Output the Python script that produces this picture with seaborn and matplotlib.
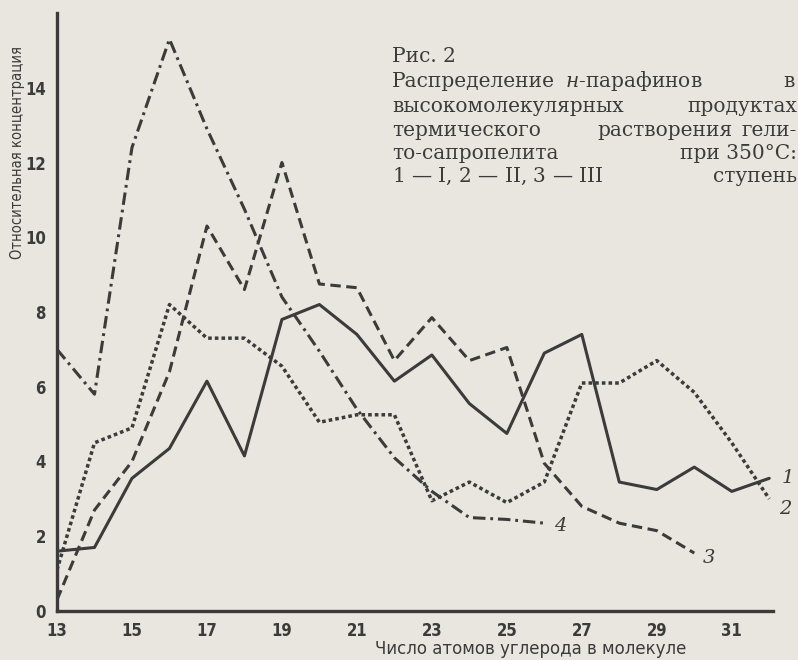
import numpy as np
import matplotlib.pyplot as plt
import seaborn as sns

# число атомов углерода
carbon = list(range(13, 33))

# относительная концентрация н-парафинов
stage1 = [1.6, 1.7, 3.55, 4.35, 6.15, 4.15, 7.8, 8.2, 7.4, 6.15,
          6.85, 5.55, 4.75, 6.9, 7.4, 3.45, 3.25, 3.85, 3.2, 3.55]
stage2 = [1.1, 4.5, 4.9, 8.2, 7.3, 7.3, 6.55, 5.05, 5.25, 5.25,
          2.95, 3.45, 2.9, 3.45, 6.1, 6.1, 6.7, 5.85, 4.5, 3.0]
stage3 = [0.3, 2.7, 4.0, 6.4, 10.3, 8.6, 12.0, 8.75, 8.65, 6.7,
          7.85, 6.7, 7.05, 3.95, 2.8, 2.35, 2.15, 1.55]
stage4 = [7.0, 5.8, 12.4, 15.3, 12.9, 10.75, 8.4, 6.95, 5.4, 4.1,
          3.2, 2.5, 2.45, 2.35]

series_labels = ["1", "2", "3", "4"]
xtick_vals = list(range(13, 32, 2))
ytick_vals = list(range(0, 17, 2))
ytick_labels = [str(v) for v in ytick_vals[:-1]] + [""]

paper = "#e8e6de"
ink = "#3b3b3b"

sns.set_theme(style="white")
plt.rcParams["lines.scale_dashes"] = False
plt.rcParams["mathtext.fontset"] = "dejavuserif"
plt.rcParams["font.family"] = ["DejaVu Sans"]

fig = plt.figure(figsize=(7.98, 6.6), dpi=100, facecolor=paper)
ax = fig.add_axes([57 / 798, 49 / 660, 716 / 798, 598 / 660])
ax.set_facecolor(paper)

lw = 2.2
sns.lineplot(x=carbon, y=stage1, ax=ax, color=ink, linewidth=lw, linestyle="-")
sns.lineplot(x=carbon, y=stage2, ax=ax, color=ink, linewidth=lw + 0.3,
             linestyle=(0, (2.6, 2.2)))
sns.lineplot(x=carbon[:len(stage3)], y=stage3, ax=ax, color=ink, linewidth=lw,
             linestyle=(0, (7.5, 4)))
sns.lineplot(x=carbon[:len(stage4)], y=stage4, ax=ax, color=ink, linewidth=lw,
             linestyle=(0, (9, 3.5, 2, 3.5)))

# подписи кривых у их концов
ends = [(carbon[len(stage1) - 1], stage1[-1], (12, 0)),
        (carbon[len(stage2) - 1], stage2[-1], (10, -10)),
        (carbon[len(stage3) - 1], stage3[-1], (8, -5)),
        (carbon[len(stage4) - 1], stage4[-1], (10, -3))]
for lab, (x, y, off) in zip(series_labels, ends):
    ax.annotate(lab, (x, y), xytext=off, textcoords="offset pixels",
                fontsize=14, fontstyle="italic", family="DejaVu Serif",
                color=ink, va="center", ha="left", annotation_clip=False)

ax.set_xlim(13, 32.1)
ax.set_ylim(0, 16)
ax.set_xticks(xtick_vals)
ax.set_yticks(ytick_vals)
ax.set_yticklabels(ytick_labels)
for lab in ax.get_xticklabels() + ax.get_yticklabels():
    lab.set_fontweight("bold")
    lab.set_fontsize(12)
    lab.set_fontstretch("condensed")
    lab.set_color(ink)
ax.tick_params(axis="both", direction="out", length=5, width=2, color=ink, pad=3)

sns.despine(ax=ax)
for side in ["left", "bottom"]:
    ax.spines[side].set_linewidth(2.4)
    ax.spines[side].set_color(ink)

ax.set_ylabel("Относительная концентрация", fontsize=10.5, color=ink,
              fontstretch="condensed")
ax.yaxis.set_label_coords(-0.044, 0.767)
ax.set_xlabel("Число атомов углерода в молекуле", fontsize=12, color=ink)
ax.xaxis.set_label_coords(0.661, -0.048)

# подпись к рисунку
cap = dict(family="DejaVu Serif", fontsize=14.5, color=ink, va="baseline")
W, H = 798, 660
def put(x, y, s, ha="left"):
    fig.text(x / W, 1 - y / H, s, ha=ha, **cap)

put(392, 62, "Рис. 2")
put(392, 87, "Распределение")
put(565, 87, r"$\mathit{н}$-парафинов")
put(795, 87, "в", ha="right")
put(392, 112, "высокомолекулярных")
put(797, 112, "продуктах", ha="right")
put(392, 136, "термического")
put(597, 136, "растворения")
put(797, 136, "гели-", ha="right")
put(392, 159, "то-сапропелита")
put(797, 159, "при 350°С:", ha="right")
put(392, 182, r"$\mathit{1}$ — I, $\mathit{2}$ — II, $\mathit{3}$ — III")
put(797, 182, "ступень", ha="right")

plt.savefig("out.png", dpi=100, facecolor=paper)
